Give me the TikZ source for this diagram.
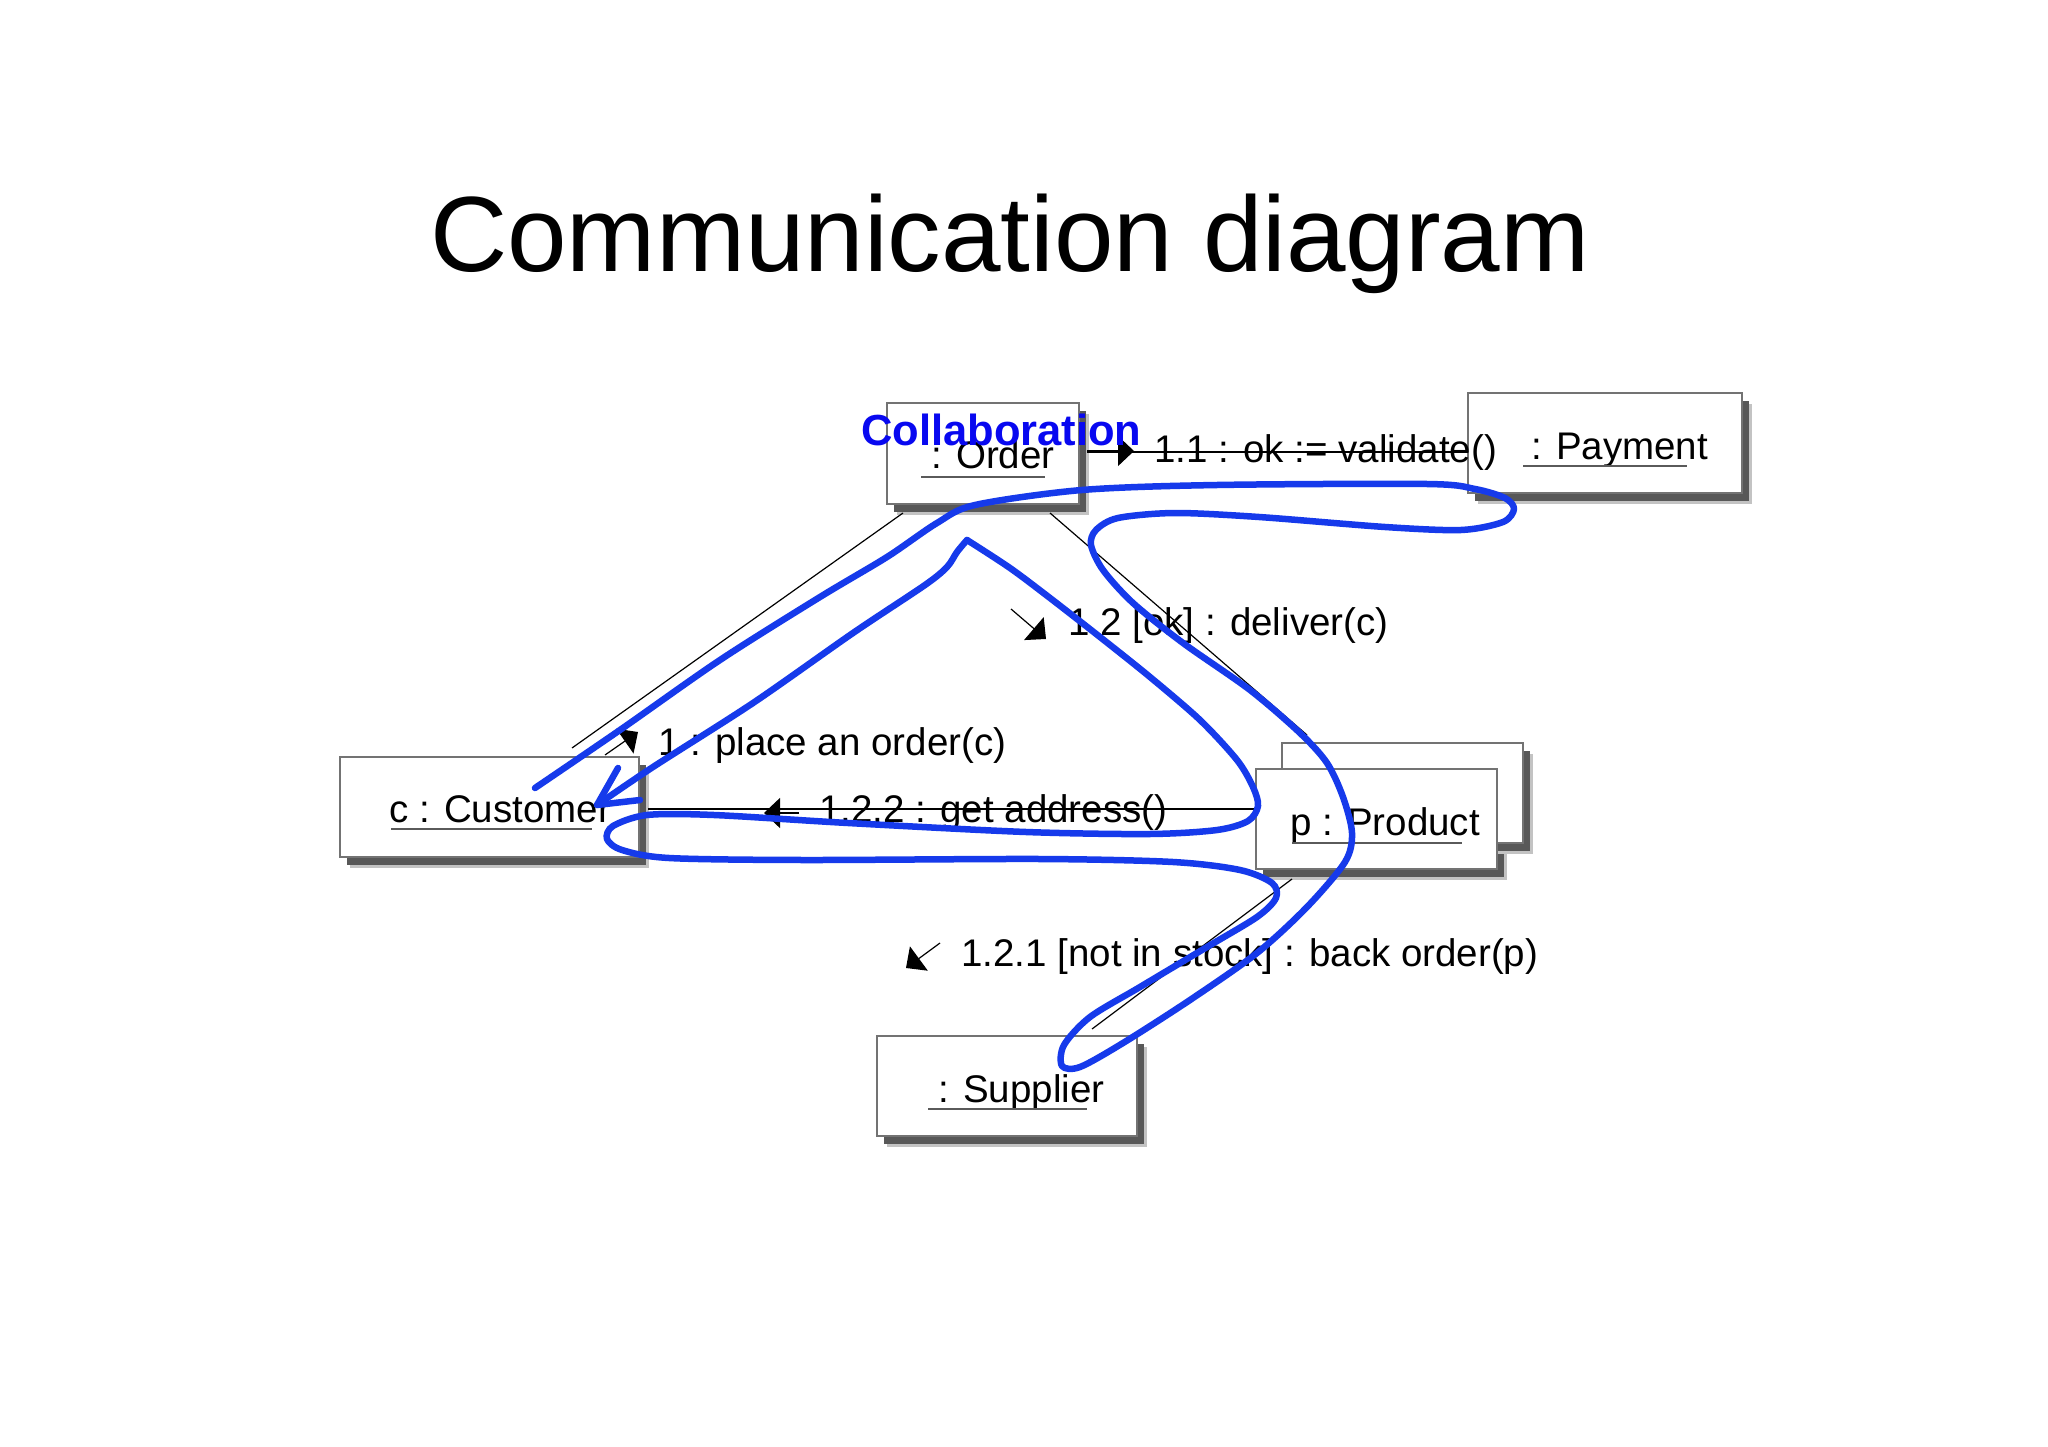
\documentclass[tikz,border=0pt]{standalone}
\usepackage{fontspec}
\setmainfont{Liberation Sans}
\usetikzlibrary{arrows.meta,shadows}
\definecolor{penblue}{RGB}{22,58,235}
\definecolor{labblue}{RGB}{8,8,240}
\definecolor{boxgray}{RGB}{115,115,115}
\definecolor{ulgray}{RGB}{90,90,90}
\definecolor{shdark}{RGB}{88,88,88}
\definecolor{shlight}{RGB}{195,195,195}
\tikzset{
  boxshadow/.style={
    general shadow={fill=shlight, shadow xshift=10pt, shadow yshift=-11pt},
    general shadow={fill=shdark, shadow xshift=7pt, shadow yshift=-8pt}},
  plainbox/.style={draw=boxgray, line width=1.5pt, fill=white, inner sep=0pt, outer sep=0pt},
  objbox/.style={plainbox, boxshadow},
  objtext/.style={font=\fontsize{38.5}{46}\selectfont, inner sep=0pt, anchor=base west},
  msgtext/.style={font=\fontsize{38.5}{46}\selectfont, inner sep=0pt, anchor=base west},
  uline/.style={draw=ulgray, line width=1.6pt},
  link/.style={draw=black, line width=1.2pt},
  msg/.style={draw=black, line width=1.2pt, -{Triangle[length=16pt,width=30pt]}},
  pen/.style={draw=penblue, line width=6.5pt, line cap=round, line join=round}
}
\begin{document}
\begin{tikzpicture}[x=1pt,y=-1pt]
\useasboundingbox[fill=white] (0,0) rectangle (2048,1447);

% title
\node[inner sep=0pt, anchor=base west, font=\fontsize{107}{120}\selectfont] (title) at (430,272) {Communication diagram};

% front product shadow (under the back box)
\fill[shlight] (1266,780) rectangle (1507,880);
\fill[shdark] (1263,777) rectangle (1504,877);

% object boxes
\node[objbox, minimum width=192pt, minimum height=101pt] (order) at (983,453.5) {};
\node[objbox, minimum width=274pt, minimum height=100pt] (payment) at (1605,443) {};
\node[objbox, minimum width=299pt, minimum height=100pt] (customer) at (489.5,807) {};
\node[objbox, minimum width=241pt, minimum height=100pt] (productback) at (1402.5,793) {};
\node[plainbox, minimum width=241pt, minimum height=100pt] (product) at (1376.5,819) {};
\node[objbox, minimum width=260pt, minimum height=100pt] (supplier) at (1007,1086) {};

% link end points
\coordinate (opA) at (1087,452);
\coordinate (opB) at (1468,452);
\coordinate (ocA) at (903,513);
\coordinate (ocB) at (572,748);
\coordinate (oprA) at (1050,513);
\coordinate (oprB) at (1307,735);
\coordinate (cpA) at (648,809);
\coordinate (cpB) at (1256,809);
\coordinate (psA) at (1292,879);
\coordinate (psB) at (1092,1029);

\draw[link] (opA) -- (opB);
\draw[link] (ocA) -- (ocB);
\draw[link] (oprA) -- (oprB);
\draw[link] (cpA) -- (cpB);
\draw[link] (psA) -- (psB);

% object names
\node[objtext] (ordertxt) at (931,468) {: Order};
\node[objtext] (paymenttxt) at (1531,459) {: Payment};
\node[objtext] (customertxt) at (389,822) {c : Customer};
\node[objtext] (producttxt) at (1290,835) {p : Product};
\node[objtext] (suppliertxt) at (938,1102) {: Supplier};
\draw[uline] (921,477) -- (1045,477);
\draw[uline] (1523,466) -- (1687,466);
\draw[uline] (391,829) -- (592,829);
\draw[uline] (1292,843) -- (1462,843);
\draw[uline] (928,1109) -- (1087,1109);

% message arrows
\coordinate (m11a) at (1087,451); \coordinate (m11b) at (1134,451);
\coordinate (m12a) at (1011,609); \coordinate (m12b) at (1046,639);
\coordinate (m1a) at (605,755);   \coordinate (m1b) at (638,732);
\coordinate (m122a) at (799,813); \coordinate (m122b) at (764,813);
\coordinate (m121a) at (940,943); \coordinate (m121b) at (906,968);
\draw[msg] (m11a) -- (m11b);
\draw[msg] (m12a) -- (m12b);
\draw[msg] (m1a) -- (m1b);
\draw[msg] (m122a) -- (m122b);
\draw[msg] (m121a) -- (m121b);

% message labels
\node[msgtext] (l11) at (1154,462) {1.1 : ok := validate()};
\node[msgtext] (l12) at (1068,635) {1.2 [ok] : deliver(c)};
\node[msgtext] (l1) at (658,755) {1 : place an order(c)};
\node[msgtext] (l122) at (819,822) {1.2.2 : get address()};
\node[msgtext] (l121) at (961,966) {1.2.1 [not in stock] : back order(p)};

% collaboration label
\node[inner sep=0pt, anchor=base west, text=labblue, font=\bfseries\fontsize{43.5}{52}\selectfont] (collab) at (861,445) {Collaboration};

% freehand blue annotation
\draw[pen] plot[smooth, tension=0.5] coordinates {
 (535,788) (620,730) (720,660) (820,597) (887,557) (937,523) (975,505)
 (1082,490) (1217,485) (1427,484) (1475,489) (1505,498) (1514,509) (1503,522)
 (1461,530) (1385,527) (1259,517) (1175,513) (1118,518) (1096,530) (1091,545)
 (1103,570) (1133,603) (1183,643) (1250,690) (1300,733) (1327,763) (1343,797)
 (1352,833) (1345,862) (1307,907) (1257,953) (1190,1000) (1123,1043) (1080,1067)
 (1062,1066) (1064,1045) (1090,1017) (1140,987) (1207,947) (1257,917) (1276,898)
 (1272,883) (1240,870) (1173,862) (1040,859) (803,860) (669,858) (622,850)
 (607,839) (613,826) (647,815) (714,815) (848,823) (1026,832) (1150,834)
 (1217,830) (1248,821) (1258,806) (1253,787) (1237,760) (1200,720) (1150,677)
 (1100,637) (1050,598) (1010,568) (967,540)};
\draw[pen] plot[smooth, tension=0.5] coordinates {
 (967,540) (957,552) (947,567) (925,585) (853,633) (753,703) (653,767) (597,805)};
\draw[pen] (618,768) -- (597,805) -- (640,800);
\end{tikzpicture}
\end{document}
